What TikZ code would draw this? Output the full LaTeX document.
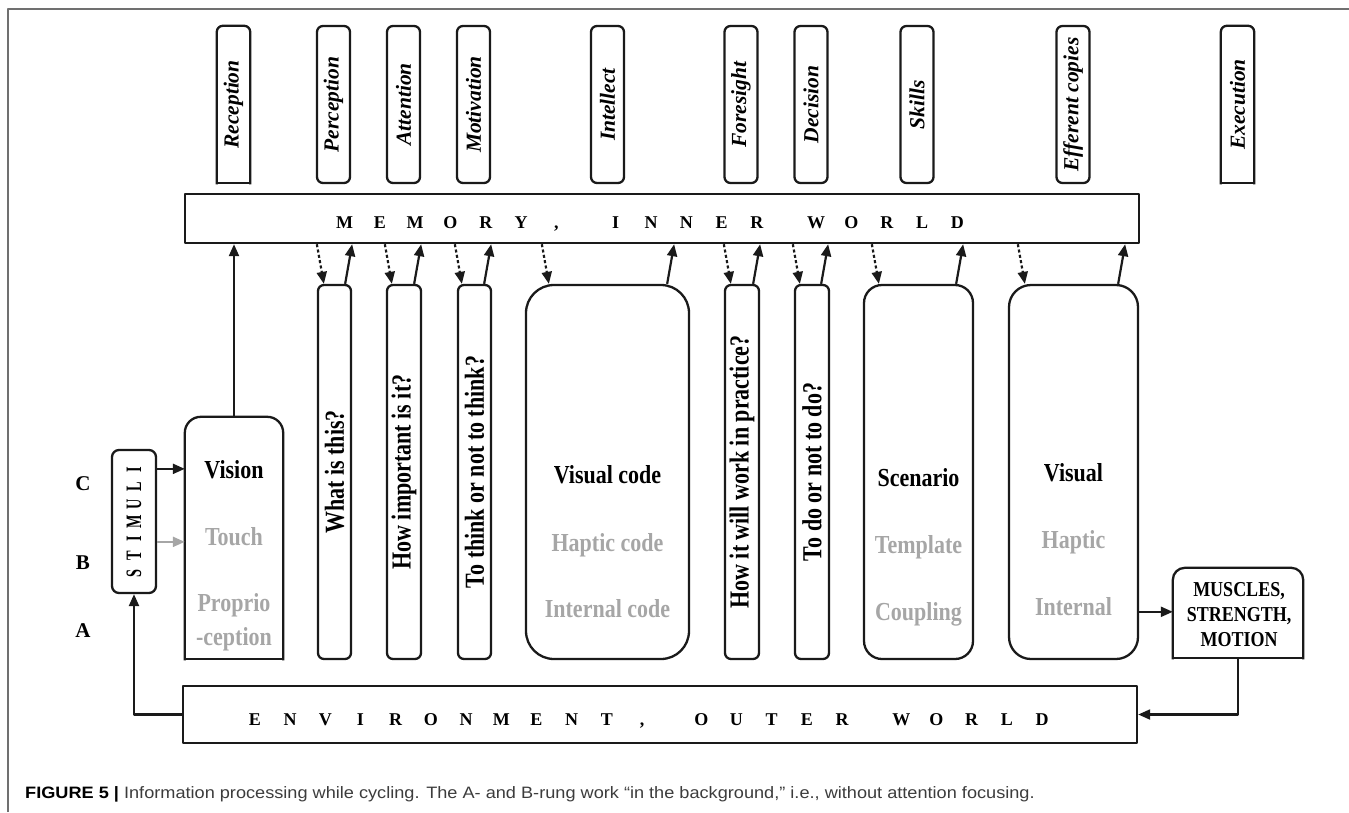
\documentclass[tikz,border=0pt]{standalone}
\usepackage{fontspec}
\setmainfont{Liberation Serif}
\newfontfamily\capfont{Liberation Sans}
\usetikzlibrary{arrows.meta,calc}
\definecolor{lgray}{HTML}{A6A6A6}
\definecolor{framegray}{HTML}{707070}
\definecolor{capgray}{HTML}{3C3C3C}
\definecolor{ink}{HTML}{1A1A1A}
\newcommand\LM[1]{\makebox[35.3pt]{#1}}
\newcommand\LE[1]{\makebox[35.2pt]{#1}}
\newcommand\LS[1]{\makebox[17.3pt]{\scalebox{0.65}[1]{#1}}}
\newcommand\wgap{\hspace*{24pt}}
\newcommand\tall[1]{\scalebox{1}[1.18]{#1}}
\newcommand\vq[1]{\rotatebox{90}{\scalebox{1}[1.25]{#1}}}
\newcommand\links[3]{%
  \draw[dotarr] ($(#1.north west |- mem.south)+(#2,0)$) -- ($(#1.north west)+(#2+7,0)$);
  \draw[arr] ($(#1.north east)+(-#3-7,0)$) -- ($(#1.north east |- mem.south)+(-#3,0)$);}
\begin{document}
\begin{tikzpicture}[x=1pt,y=-1pt,line join=round,
  bx/.style={draw=ink, line width=2.3pt, rounded corners=#1, inner sep=0pt},
  bx/.default=6pt,
  shp/.style={inner sep=0pt},
  edge/.style={draw=ink, line width=2.3pt},
  arr/.style={draw=ink, line width=2.2pt, -{Triangle[length=12pt,width=10pt]}},
  garr/.style={arr, draw=lgray, -{Triangle[length=12pt,width=10pt,fill=lgray]}},
  dotarr/.style={arr, dash pattern=on 3pt off 2.4pt},
  txt/.style={anchor=base, inner sep=0pt, font=\fontsize{22}{26}\selectfont\bfseries},
  gtxt/.style={txt, text=lgray},
  toplab/.style={minimum width=33pt, minimum height=157pt, font=\fontsize{21.5}{24}\selectfont\bfseries\itshape},
  qbox/.style={bx, minimum height=374pt, font=\fontsize{22}{26}\selectfont\bfseries},
  spaced/.style={anchor=base, inner sep=0pt, font=\fontsize{18}{20}\selectfont\bfseries}
]
\useasboundingbox (0,0) rectangle (1349,812);
% frame
\draw[framegray, line width=1.3pt] (8,812) -- (8,9) -- (1349,9);

% top labels
\node[shp, toplab] (tRec) at (233.5,104.5) {\rotatebox{90}{Reception}};
\draw[edge, rounded corners=6pt, line cap=rect] (tRec.south west) -- (tRec.north west) -- (tRec.north east) -- (tRec.south east);
\draw[edge, line cap=rect] (tRec.south west) -- (tRec.south east);
\node[bx, toplab] (tPer) at (333.5,104.5) {\rotatebox{90}{Perception}};
\node[bx, toplab] (tAtt) at (403.5,104.5) {\rotatebox{90}{Attention}};
\node[bx, toplab] (tMot) at (473.5,104.5) {\rotatebox{90}{Motivation}};
\node[bx, toplab] (tInt) at (607.5,104.5) {\rotatebox{90}{Intellect}};
\node[bx, toplab] (tFor) at (741,104.5) {\rotatebox{90}{Foresight}};
\node[bx, toplab] (tDec) at (811,104.5) {\rotatebox{90}{Decision}};
\node[bx, toplab] (tSki) at (917,104.5) {\rotatebox{90}{Skills}};
\node[bx, toplab] (tEff) at (1073,104.5) {\rotatebox{90}{Efferent copies}};
\node[shp, toplab] (tExe) at (1237.5,104.5) {\rotatebox{90}{Execution}};
\draw[edge, rounded corners=6pt, line cap=rect] (tExe.south west) -- (tExe.north west) -- (tExe.north east) -- (tExe.south east);
\draw[edge, line cap=rect] (tExe.south west) -- (tExe.south east);

% memory
\node[draw=ink, line width=2.4pt, minimum width=954pt, minimum height=49pt, inner sep=0pt] (mem) at (662,218.5) {};
\node[spaced] (memT) at (651,228) {\LM{M}\LM{E}\LM{M}\LM{O}\LM{R}\LM{Y}\LM{,}\wgap\LM{I}\LM{N}\LM{N}\LM{E}\LM{R}\wgap\LM{W}\LM{O}\LM{R}\LM{L}\LM{D}};

% lower boxes
\node[shp, minimum width=98pt, minimum height=242pt] (vision) at (234,538) {};
\draw[edge, rounded corners=16pt, line cap=rect] (vision.south west) -- (vision.north west) -- (vision.north east) -- (vision.south east);
\draw[edge, line cap=rect] (vision.south west) -- (vision.south east);
\node[txt] (visionA) at (234,478) {\tall{Vision}};
\node[gtxt] (visionB) at (234,545) {\tall{Touch}};
\node[gtxt] (visionC) at (234,611) {\tall{Proprio}};
\node[gtxt] (visionD) at (234,645) {\tall{-ception}};

\node[qbox, minimum width=33pt] (what) at (334.5,472) {\vq{What is this?}};
\node[qbox, minimum width=34pt] (howimp) at (404,472) {\vq{How important is it?}};
\node[qbox, minimum width=33pt] (think) at (474.5,472) {\vq{To think or not to think?}};
\node[qbox, bx=28pt, minimum width=163pt] (vcode) at (607.5,472) {};
\node[txt] (vcodeA) at (607.5,483) {\tall{Visual code}};
\node[gtxt] (vcodeB) at (607.5,551) {\tall{Haptic code}};
\node[gtxt] (vcodeC) at (607.5,617) {\tall{Internal code}};
\node[qbox, minimum width=34pt] (work) at (742,472) {\vq{How it will work in practice?}};
\node[qbox, minimum width=34pt] (todo) at (812,472) {\vq{To do or not to do?}};
\node[qbox, bx=18pt, minimum width=109pt] (scen) at (918.5,472) {};
\node[txt] (scenA) at (918.5,486) {\tall{Scenario}};
\node[gtxt] (scenB) at (918.5,553) {\tall{Template}};
\node[gtxt] (scenC) at (918.5,620) {\tall{Coupling}};
\node[qbox, bx=22pt, minimum width=129pt] (visual) at (1073.5,472) {};
\node[txt] (visualA) at (1073.5,481) {\tall{Visual}};
\node[gtxt] (visualB) at (1073.5,548) {\tall{Haptic}};
\node[gtxt] (visualC) at (1073.5,615) {\tall{Internal}};

% stimuli and rung labels
\node[bx=7pt, minimum width=44pt, minimum height=143pt, font=\fontsize{22}{24}\selectfont\bfseries] (stim) at (134,521.5) {\rotatebox{90}{\LS{S}\LS{T}\LS{I}\LS{M}\LS{U}\LS{L}\LS{I}}};
\node[txt, font=\fontsize{21}{24}\selectfont\bfseries] (rC) at (83,490) {C};
\node[txt, font=\fontsize{21}{24}\selectfont\bfseries] (rB) at (83,569) {B};
\node[txt, font=\fontsize{21}{24}\selectfont\bfseries] (rA) at (83,637) {A};

% muscles
\node[shp, minimum width=130pt, minimum height=90pt] (mus) at (1238,613) {};
\draw[edge, rounded corners=12pt, line cap=rect] (mus.south west) -- (mus.north west) -- (mus.north east) -- (mus.south east);
\draw[edge, line cap=rect] (mus.south west) -- (mus.south east);
\node[txt, font=\fontsize{18}{20}\selectfont\bfseries] (musA) at (1239,596) {\tall{MUSCLES,}};
\node[txt, font=\fontsize{18}{20}\selectfont\bfseries] (musB) at (1239,621) {\tall{STRENGTH,}};
\node[txt, font=\fontsize{18}{20}\selectfont\bfseries] (musC) at (1239,646) {\tall{MOTION}};

% environment
\node[draw=ink, line width=2.4pt, minimum width=954pt, minimum height=57pt, inner sep=0pt] (env) at (660,714.5) {};
\node[spaced] (envT) at (648.5,725) {\LE{E}\LE{N}\LE{V}\LE{I}\LE{R}\LE{O}\LE{N}\LE{M}\LE{E}\LE{N}\LE{T}\LE{,}\wgap\LE{O}\LE{U}\LE{T}\LE{E}\LE{R}\wgap\LE{W}\LE{O}\LE{R}\LE{L}\LE{D}};

% connectors
\draw[arr] (vision.north) -- (vision.north |- mem.south);
\links{what}{0}{0}
\links{howimp}{-1}{1}
\links{think}{-2}{1}
\links{vcode}{17}{16}
\links{work}{0}{0}
\links{todo}{-1}{2}
\links{scen}{9}{11}
\links{visual}{10}{14}

\path ([yshift=-20pt]stim.north east) coordinate (s1) ([yshift=-93pt]stim.north east) coordinate (s2);
\draw[arr] (s1) -- (s1 -| vision.west);
\draw[garr] (s2) -- (s2 -| vision.west);
\draw[arr] (env.west) -| (stim.south);
\path ([yshift=-44pt]mus.north west) coordinate (m1);
\draw[arr] (m1 -| visual.east) -- (m1);
\draw[arr] (mus.south) |- (env.east);

% caption
\node[anchor=base west, inner sep=0pt, font=\capfont\fontsize{16.5}{19}\selectfont] (cap) at (25,798) {\scalebox{1.1}[1]{\textbf{FIGURE 5 |} \textcolor{capgray}{Information processing while cycling. The A- and B-rung work “in the background,” i.e., without attention focusing.}}};
\end{tikzpicture}
\end{document}
